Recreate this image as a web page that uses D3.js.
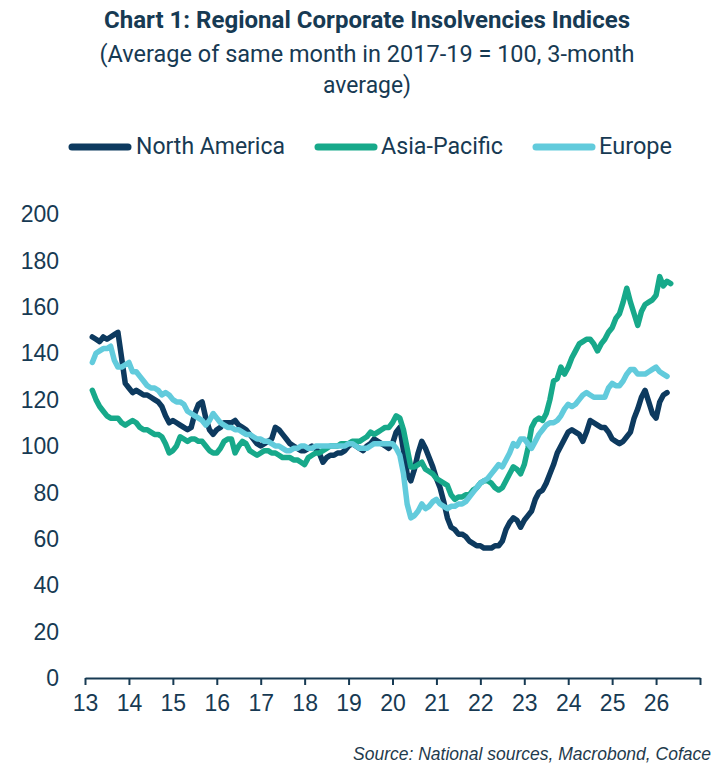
<!DOCTYPE html>
<html>
<head>
<meta charset="utf-8">
<script src="https://cdn.jsdelivr.net/npm/d3@7"></script>
<style>
  html, body { margin: 0; padding: 0; background: #ffffff; }
  svg { display: block; }
</style>
</head>
<body>
<svg id="chart" width="716" height="766"></svg>
<script>
// ---- Data (monthly, starting March 2013) ----
const startYear = 2013;
const startMonth = 2; // 0-based month offset (March)

const seriesNames = ["North America", "Asia-Pacific", "Europe"];
const seriesColors = ["#0d3a5f", "#17a98a", "#62cbdc"];

const northAmerica = [
  147,146,145,147,146,147,148,149,138,127,
  125,123,124,123,122,122,121,120,119,117,
  113,110,111,110,109,108,107,108,114,118,
  119,112,107,105,107,108,110,110,110,111,
  109,108,107,105,103,101,100,101,102,103,
  108,107,105,103,101,100,99,98,98,99,
  100,99,97,93,95,96,96,97,97,98,
  100,101,100,99,98,100,101,103,102,101,
  100,99,101,106,108,98,88,85,90,97,
  102,99,95,91,86,82,76,69,65,64,
  62,62,61,59,58,57,57,56,56,56,
  57,57,59,64,67,69,68,65,68,70,
  72,77,80,81,84,88,92,97,100,103,
  106,107,106,105,102,106,111,110,109,108,
  108,106,103,102,101,102,104,106,112,116,
  121,124,119,114,112,119,122,123
];

const asiaPacific = [
  124,120,117,115,113,112,112,112,110,109,
  110,111,110,108,107,107,106,105,105,104,
  101,97,98,100,104,103,102,103,103,102,
  102,100,98,97,97,99,102,103,103,97,
  100,102,101,98,97,96,97,98,98,97,
  97,96,95,95,95,94,94,93,92,95,
  96,97,97,98,99,100,100,100,101,101,
  101,102,102,102,103,104,106,105,106,107,
  108,108,110,113,112,107,99,91,91,92,
  93,90,89,88,86,85,84,83,79,77,
  78,78,79,79,81,82,84,85,85,84,
  82,81,82,85,88,91,90,88,92,99,
  108,111,112,111,114,120,128,129,134,131,
  134,138,141,144,145,146,146,144,141,144,
  146,149,151,155,157,162,168,162,157,152,
  158,161,162,163,165,173,169,171,170
];

const europe = [
  136,140,141,142,142,143,137,134,134,135,
  136,132,132,130,128,126,125,125,124,122,
  123,122,120,119,119,118,115,114,113,112,
  111,109,111,114,112,110,109,108,108,107,
  107,106,105,105,104,103,103,102,102,101,
  100,100,99,98,98,99,99,100,100,99,
  99,100,100,100,100,100,100,100,100,100,
  101,101,100,99,99,99,100,101,101,101,
  101,101,101,99,96,88,75,69,70,72,
  75,73,74,76,77,75,74,73,74,74,
  75,75,76,78,80,82,84,85,86,88,
  90,92,91,94,97,101,100,103,103,101,
  99,102,105,107,109,110,110,111,113,116,
  118,117,118,120,122,123,122,121,121,121,
  121,125,127,126,126,128,131,133,133,131,
  131,131,132,133,134,132,131,130
];

const xTickYears = [2013,2014,2015,2016,2017,2018,2019,2020,2021,2022,2023,2024,2025,2026,2027];
const xTickLabels = ["13","14","15","16","17","18","19","20","21","22","23","24","25","26",""];
const yTicks = [0,20,40,60,80,100,120,140,160,180,200];

const titleText = "Chart 1: Regional Corporate Insolvencies Indices";
const subtitleLines = ["(Average of same month in 2017-19 = 100, 3-month", "average)"];
const sourceText = "Source: National sources, Macrobond, Coface";

// ---- Drawing ----
const svg = d3.select("#chart");
const textColor = "#173a53";

const x = d3.scaleLinear().domain([2013, 2027]).range([85, 700]);
const y = d3.scaleLinear().domain([0, 200]).range([678, 214]);

// Title
svg.append("text")
  .attr("x", 367).attr("y", 28)
  .attr("text-anchor", "middle")
  .attr("font-family", "Roboto, 'Noto Sans', sans-serif")
  .attr("font-weight", 700)
  .attr("font-size", 24)
  .attr("fill", textColor)
  .attr("textLength", 526).attr("lengthAdjust", "spacingAndGlyphs")
  .text(titleText);

const subLens = [535, 88];
subtitleLines.forEach((s, k) => {
  svg.append("text")
    .attr("x", 367).attr("y", 62 + k * 31)
    .attr("text-anchor", "middle")
    .attr("font-family", "Roboto, 'Noto Sans', sans-serif")
    .attr("font-size", 24)
    .attr("fill", textColor)
    .attr("textLength", subLens[k]).attr("lengthAdjust", "spacingAndGlyphs")
    .text(s);
});

// Legend
const legendItems = [
  { x0: 72, x1: 128, tx: 136, tl: 149 },
  { x0: 318, x1: 374, tx: 381, tl: 122 },
  { x0: 536, x1: 592, tx: 599, tl: 73 }
];
seriesNames.forEach((name, k) => {
  const it = legendItems[k];
  svg.append("line")
    .attr("x1", it.x0).attr("x2", it.x1)
    .attr("y1", 147).attr("y2", 147)
    .attr("stroke", seriesColors[k])
    .attr("stroke-width", 7)
    .attr("stroke-linecap", "round");
  svg.append("text")
    .attr("x", it.tx).attr("y", 154)
    .attr("font-family", "Roboto, 'Noto Sans', sans-serif")
    .attr("font-size", 23)
    .attr("fill", textColor)
    .attr("textLength", it.tl).attr("lengthAdjust", "spacingAndGlyphs")
    .text(name);
});

// Y labels (no axis line)
svg.append("g").selectAll("text")
  .data(yTicks).enter().append("text")
  .attr("x", 59)
  .attr("y", d => y(d))
  .attr("dy", "0.36em")
  .attr("text-anchor", "end")
  .attr("font-family", "'Liberation Sans', Arial, sans-serif")
  .attr("font-size", 23)
  .attr("fill", textColor)
  .text(d => d);

// X axis
const xAxis = d3.axisBottom(x)
  .tickValues(xTickYears)
  .tickFormat((d, i) => xTickLabels[i])
  .tickSize(7)
  .tickPadding(10)
  .tickSizeOuter(0);
const gx = svg.append("g")
  .attr("transform", `translate(0,${y(0)})`)
  .call(xAxis);
gx.select(".domain").attr("stroke", textColor).attr("stroke-width", 2);
gx.selectAll(".tick line").attr("stroke", textColor).attr("stroke-width", 2);
gx.selectAll(".tick text")
  .attr("font-family", "'Liberation Sans', Arial, sans-serif")
  .attr("font-size", 23)
  .attr("fill", textColor);

// Lines
const monthT = i => startYear + (startMonth + i) / 12;
const lineGen = d3.line()
  .x((d, i) => x(monthT(i)))
  .y(d => y(d))
  .curve(d3.curveLinear);

const allSeries = [northAmerica, asiaPacific, europe];
allSeries.forEach((vals, k) => {
  svg.append("path")
    .datum(vals)
    .attr("d", lineGen)
    .attr("fill", "none")
    .attr("stroke", seriesColors[k])
    .attr("stroke-width", 5.5)
    .attr("stroke-linejoin", "round")
    .attr("stroke-linecap", "round");
});

// Source
svg.append("text")
  .attr("x", 711).attr("y", 760)
  .attr("text-anchor", "end")
  .attr("font-family", "'Liberation Sans', Arial, sans-serif")
  .attr("font-style", "italic")
  .attr("font-size", 17.5)
  .attr("fill", "#1f3b4d")
  .text(sourceText);
</script>
</body>
</html>
